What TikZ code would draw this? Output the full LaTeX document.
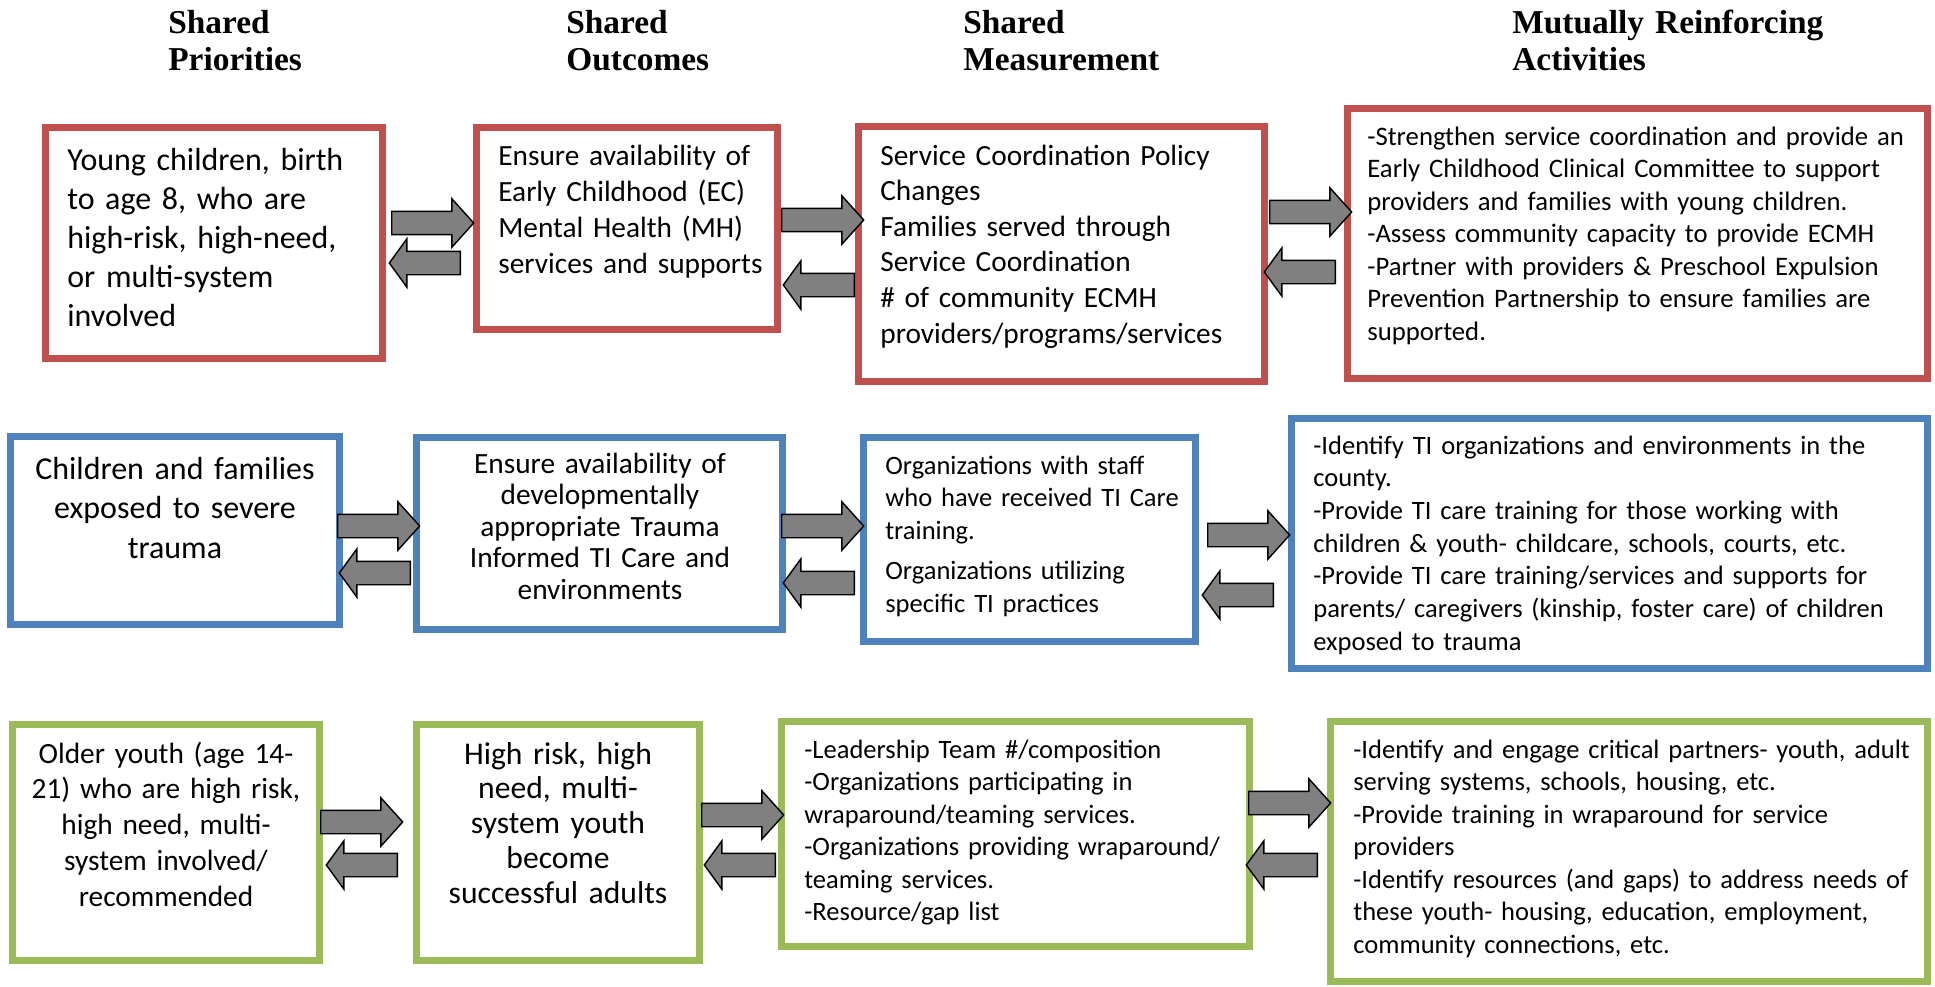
\documentclass[tikz,border=0pt]{standalone}
\usepackage{fontspec}
\setmainfont{Carlito}
\newfontfamily\headfont{Liberation Serif}
\usetikzlibrary{shapes.arrows}

\definecolor{boxred}{HTML}{C0504D}
\definecolor{boxblue}{HTML}{4F81BD}
\definecolor{boxgreen}{HTML}{9BBB59}
\definecolor{arrowgray}{HTML}{808080}

\tikzset{
  box/.style 2 args={draw, rectangle, line width=3.9pt, inner sep=0pt, minimum width=#1, minimum height=#2},
  head/.style={inner sep=0pt, text width=7cm, align=left, anchor=base west, font=\headfont\bfseries\fontsize{19}{21.6}\selectfont},
  txt/.style={inner sep=0pt, text width=#1, align=left, anchor=base west},
  ctxt/.style={inner sep=0pt, text width=#1, align=center, anchor=base},
  rarr/.style={single arrow, draw=black, fill=arrowgray, line width=0.8pt, inner xsep=0pt, inner ysep=0.22cm,
    single arrow head extend=0.25cm, single arrow tip angle=96, minimum height=1.64cm, anchor=tail},
  larr/.style={rarr, shape border rotate=180, single arrow tip angle=108, minimum height=1.42cm}
}

\begin{document}
\begin{tikzpicture}[x=0.02cm, y=-0.02cm]
\useasboundingbox (0,0) rectangle (1935,987);
\fill[white] (0,0) rectangle (1935,987);

% headings
\node[head] (hp) at (168,33) {Shared\\Priorities};
\node[head] (ho) at (566,33) {Shared\\Outcomes};
\node[head] (hm) at (963,33) {Shared\\Measurement};
\node[head] (ha) at (1512,33) {Mutually Reinforcing\\Activities};

% row 1
\node[box={6.74cm}{4.62cm}, draw=boxred] (A1) at (214,243) {};
\node[box={6.02cm}{4.04cm}, draw=boxred] (B1) at (627,228.5) {};
\node[box={8.12cm}{5.10cm}, draw=boxred] (C1) at (1061.5,254) {};
\node[box={11.60cm}{5.40cm}, draw=boxred] (D1) at (1637.5,243.5) {};

\node[txt=6.5cm, font=\fontsize{18.2}{22.2}\selectfont] (A1t) at (67,170)
  {Young children, birth\\to age 8, who are\\high-risk, high-need,\\or multi-system\\involved};
\node[txt=6cm, font=\fontsize{16.7}{20.5}\selectfont] (B1t) at (498,165)
  {Ensure availability of\\Early Childhood (EC)\\Mental Health (MH)\\services and supports};
\node[txt=7.5cm, font=\fontsize{16.7}{20.3}\selectfont] (C1t) at (880,165)
  {Service Coordination Policy\\Changes\\Families served through\\Service Coordination\\\# of community ECMH\\providers/programs/services};
\node[txt=11.5cm, font=\fontsize{15.2}{18.5}\selectfont] (D1t) at (1367,145)
  {-Strengthen service coordination and provide an\\Early Childhood Clinical Committee to support\\providers and families with young children.\\-Assess community capacity to provide ECMH\\-Partner with providers \& Preschool Expulsion\\Prevention Partnership to ensure families are\\supported.};

% row 2
\node[box={6.58cm}{3.76cm}, draw=boxblue] (A2) at (175,530.5) {};
\node[box={7.32cm}{3.84cm}, draw=boxblue] (B2) at (599.5,533.5) {};
\node[box={6.64cm}{4.08cm}, draw=boxblue] (C2) at (1029.5,539.5) {};
\node[box={12.72cm}{5.00cm}, draw=boxblue] (D2) at (1609.5,543.5) {};

\node[ctxt=6.4cm, font=\fontsize{18.2}{22.5}\selectfont] (A2t) at (175,479)
  {Children and families\\exposed to severe\\trauma};
\node[ctxt=7cm, font=\fontsize{16.7}{18}\selectfont] (B2t) at (600,473)
  {Ensure availability of\\developmentally\\appropriate Trauma\\Informed TI Care and\\environments};
\node[txt=6.4cm, font=\fontsize{15.1}{18.5}\selectfont] (C2t) at (885,474)
  {Organizations with staff\\who have received TI Care\\training.\\[4.8pt]Organizations utilizing\\specific TI practices};
\node[txt=12.2cm, font=\fontsize{15.1}{18.6}\selectfont] (D2t) at (1313,454)
  {-Identify TI organizations and environments in the\\county.\\-Provide TI care training for those working with\\children \& youth- childcare, schools, courts, etc.\\-Provide TI care training/services and supports for\\parents/ caregivers (kinship, foster care) of children\\exposed to trauma};

% row 3
\node[box={6.14cm}{4.72cm}, draw=boxgreen] (A3) at (166,842.5) {};
\node[box={5.66cm}{4.72cm}, draw=boxgreen] (B3) at (558,842.5) {};
\node[box={9.36cm}{4.50cm}, draw=boxgreen] (C3) at (1015.5,834) {};
\node[box={11.94cm}{5.20cm}, draw=boxgreen] (D3) at (1629,851.5) {};

\node[ctxt=6cm, font=\fontsize{16.7}{20.4}\selectfont] (A3t) at (166,763)
  {Older youth (age 14-\\21) who are high risk,\\high need, multi-\\system involved/\\recommended};
\node[ctxt=5.4cm, font=\fontsize{18}{19.9}\selectfont] (B3t) at (558,764)
  {High risk, high\\need, multi-\\system youth\\become\\successful adults};
\node[txt=9cm, font=\fontsize{15.1}{18.5}\selectfont] (C3t) at (804,758)
  {-Leadership Team \#/composition\\-Organizations participating in\\wraparound/teaming services.\\-Organizations providing wraparound/\\teaming services.\\-Resource/gap list};
\node[txt=11.5cm, font=\fontsize{15.1}{18.5}\selectfont] (D3t) at (1353,758)
  {-Identify and engage critical partners- youth, adult\\serving systems, schools, housing, etc.\\-Provide training in wraparound for service\\providers\\-Identify resources (and gaps) to address needs of\\these youth- housing, education, employment,\\community connections, etc.};

% two-way arrows between the columns
\node[rarr] (A1r) at (391,223) {};
\node[larr] (A1l) at (461,263) {};
\node[rarr] (B1r) at (781,220) {};
\node[larr] (B1l) at (855,285) {};
\node[rarr] (C1r) at (1269,212) {};
\node[larr] (C1l) at (1336,272) {};

\node[rarr] (A2r) at (337,526) {};
\node[larr] (A2l) at (411,573) {};
\node[rarr] (B2r) at (781,526) {};
\node[larr] (B2l) at (855,583) {};
\node[rarr] (C2r) at (1207,535) {};
\node[larr] (C2l) at (1274,595) {};

\node[rarr] (A3r) at (320,822) {};
\node[larr] (A3l) at (398,865) {};
\node[rarr] (B3r) at (701,815) {};
\node[larr] (B3l) at (776,865) {};
\node[rarr] (C3r) at (1248,803) {};
\node[larr] (C3l) at (1318,865) {};
\end{tikzpicture}
\end{document}
